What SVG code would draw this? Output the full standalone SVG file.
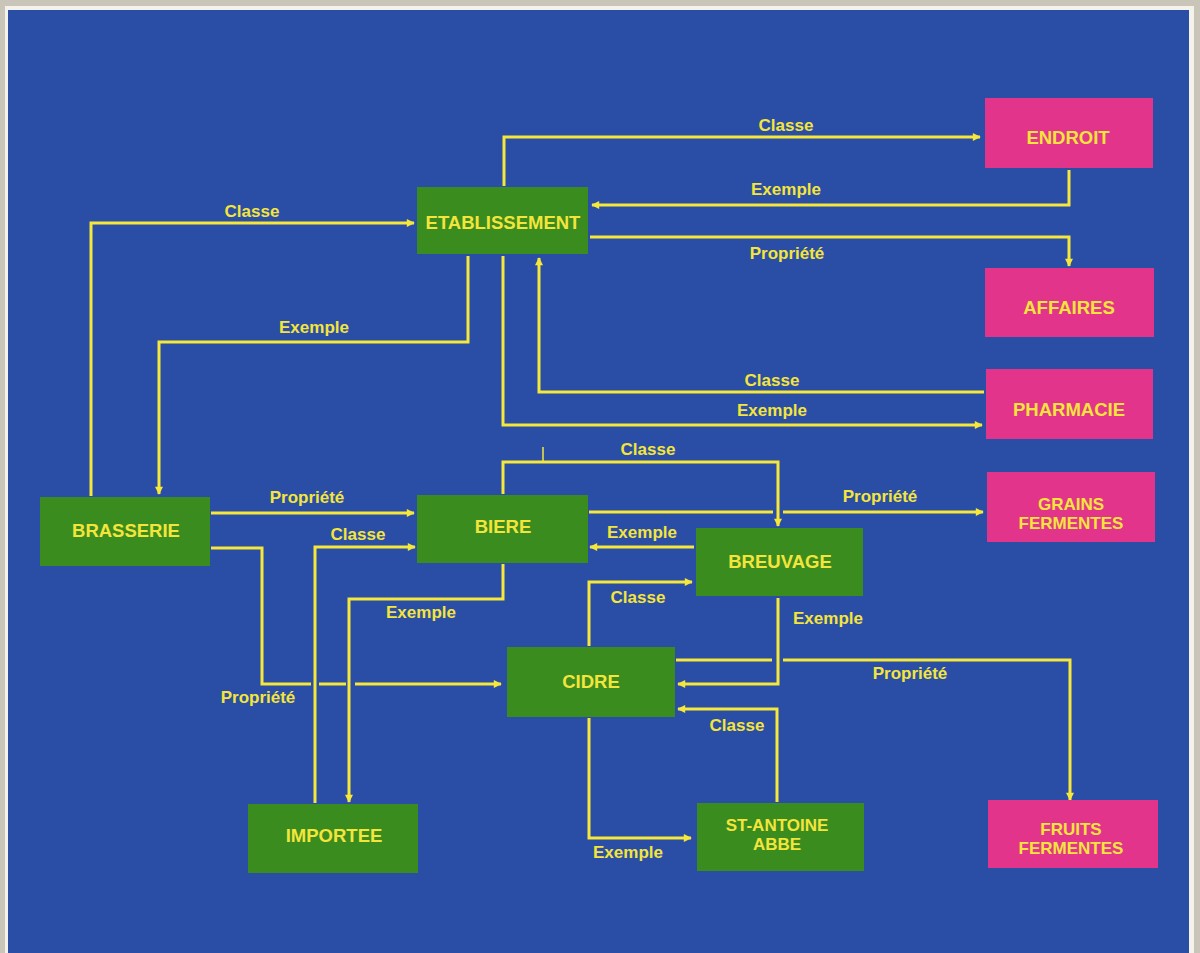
<svg xmlns="http://www.w3.org/2000/svg" width="1200" height="953" viewBox="0 0 1200 953">
<style>
.n{fill:#3b8c1e}
.p{fill:#e2348a}
.t{font-family:"Liberation Sans",Arial,sans-serif;font-weight:bold;font-size:18.5px;fill:#f4e53c;text-anchor:middle}
.t2{font-family:"Liberation Sans",Arial,sans-serif;font-weight:bold;font-size:17px;fill:#f4e53c;text-anchor:middle}
.l{font-family:"Liberation Sans",Arial,sans-serif;font-weight:bold;font-size:17px;fill:#f4e53c;text-anchor:middle}
.c{fill:none;stroke:#f6e83a;stroke-width:3}
.a{marker-end:url(#ah)}
</style>
<defs>
<marker id="ah" viewBox="0 0 10 10" refX="9" refY="5" markerWidth="10" markerHeight="8" markerUnits="userSpaceOnUse" orient="auto">
<path d="M0,0 L10,5 L0,10 z" fill="#f6e83a"/>
</marker>
</defs>
<rect x="0" y="0" width="1200" height="953" fill="#c9c5b8"/>
<rect x="5" y="6" width="1189" height="947" fill="#f4f2ea"/>
<rect x="8" y="10" width="1181" height="943" fill="#2a4da6"/>

<g id="connectors">
<path class="c a" d="M504,186 V137 H980"/>
<path class="c a" d="M1069,170 V205 H592"/>
<path class="c a" d="M590,237 H1069 V266"/>
<path class="c a" d="M91,496 V223 H414"/>
<path class="c a" d="M468,256 V342 H159 V494"/>
<path class="c a" d="M984,392 H539 V258"/>
<path class="c a" d="M503,256 V425 H982"/>
<path class="c a" d="M503,494 V462 H778 V526"/>
<path class="c" d="M543,447 V462" style="stroke-width:1.5"/>
<path class="c" d="M589,512 H773"/>
<path class="c a" d="M783,512 H983"/>
<path class="c a" d="M694,547 H590"/>
<path class="c a" d="M589,646 V582 H692"/>
<path class="c a" d="M778,598 V684 H678"/>
<path class="c" d="M676,660 H772"/>
<path class="c a" d="M783,660 H1070 V800"/>
<path class="c a" d="M777,802 V709 H678"/>
<path class="c a" d="M589,718 V838 H691"/>
<path class="c a" d="M211,513 H414"/>
<path class="c" d="M211,548 H262 V684 H311"/>
<path class="c" d="M319,684 H346"/>
<path class="c a" d="M355,684 H501"/>
<path class="c a" d="M315,803 V547 H415"/>
<path class="c a" d="M503,564 V599 H349 V802"/>
</g>

<g id="connector-labels">
<text class="l" x="786" y="131">Classe</text>
<text class="l" x="786" y="195">Exemple</text>
<text class="l" x="787" y="259">Propriété</text>
<text class="l" x="252" y="217">Classe</text>
<text class="l" x="314" y="333">Exemple</text>
<text class="l" x="772" y="386">Classe</text>
<text class="l" x="772" y="416">Exemple</text>
<text class="l" x="648" y="455">Classe</text>
<text class="l" x="880" y="502">Propriété</text>
<text class="l" x="642" y="538">Exemple</text>
<text class="l" x="638" y="603">Classe</text>
<text class="l" x="828" y="624">Exemple</text>
<text class="l" x="910" y="679">Propriété</text>
<text class="l" x="737" y="731">Classe</text>
<text class="l" x="628" y="858">Exemple</text>
<text class="l" x="307" y="503">Propriété</text>
<text class="l" x="358" y="540">Classe</text>
<text class="l" x="421" y="618">Exemple</text>
<text class="l" x="258" y="703">Propriété</text>
</g>

<g id="etablissement"><rect class="n" x="417" y="187" width="171" height="67"/><text class="t" x="503" y="229">ETABLISSEMENT</text></g>
<g id="endroit"><rect class="p" x="985" y="98" width="168" height="70"/><text class="t" x="1068" y="144">ENDROIT</text></g>
<g id="affaires"><rect class="p" x="985" y="268" width="169" height="69"/><text class="t" x="1069" y="314">AFFAIRES</text></g>
<g id="pharmacie"><rect class="p" x="986" y="369" width="167" height="70"/><text class="t" x="1069" y="416">PHARMACIE</text></g>
<g id="grains-fermentes"><rect class="p" x="987" y="472" width="168" height="70"/><text class="t2" x="1071" y="510">GRAINS</text><text class="t2" x="1071" y="529">FERMENTES</text></g>
<g id="fruits-fermentes"><rect class="p" x="988" y="800" width="170" height="68"/><text class="t2" x="1071" y="835">FRUITS</text><text class="t2" x="1071" y="854">FERMENTES</text></g>
<g id="brasserie"><rect class="n" x="40" y="497" width="170" height="69"/><text class="t" x="126" y="537">BRASSERIE</text></g>
<g id="biere"><rect class="n" x="417" y="495" width="171" height="68"/><text class="t" x="503" y="533">BIERE</text></g>
<g id="breuvage"><rect class="n" x="696" y="528" width="167" height="68"/><text class="t" x="780" y="568">BREUVAGE</text></g>
<g id="cidre"><rect class="n" x="507" y="647" width="168" height="70"/><text class="t" x="591" y="688">CIDRE</text></g>
<g id="st-antoine-abbe"><rect class="n" x="697" y="803" width="167" height="68"/><text class="t2" x="777" y="831">ST-ANTOINE</text><text class="t2" x="777" y="850">ABBE</text></g>
<g id="importee"><rect class="n" x="248" y="804" width="170" height="69"/><text class="t" x="334" y="842">IMPORTEE</text></g>
</svg>
